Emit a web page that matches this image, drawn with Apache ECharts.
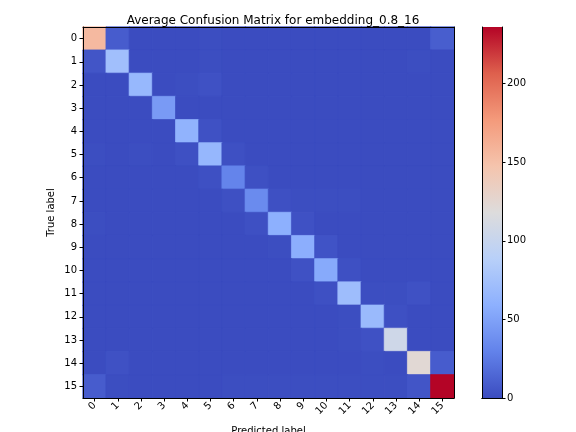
<!DOCTYPE html>
<html>
<head>
<meta charset="utf-8">
<script src="https://cdn.jsdelivr.net/npm/echarts@6/dist/echarts.min.js"></script>
<style>html,body{margin:0;padding:0;background:#fff}#c{width:576px;height:432px}</style>
</head>
<body>
<div id="c"></div>
<script>
var labels = ['0','1','2','3','4','5','6','7','8','9','10','11','12','13','14','15'];
var confusion = [
  [155, 9, 0, 0, 0, 1, 0, 0, 0, 0, 0, 0, 0, 0, 0, 10],
  [5, 73, 0, 0, 0, 1, 0, 0, 0, 0, 0, 0, 0, 0, 1, 0],
  [0, 0, 66, 0, 1, 3, 0, 0, 0, 0, 0, 0, 0, 0, 0, 0],
  [0, 0, 0, 45, 0, 0, 0, 0, 0, 0, 0, 0, 0, 0, 0, 0],
  [0, 0, 0, 0, 62, 3, 0, 0, 0, 0, 0, 0, 0, 0, 0, 0],
  [1, 0, 1, 0, 2, 65, 2, 0, 0, 0, 0, 0, 0, 0, 0, 0],
  [0, 0, 0, 0, 0, 2, 31, 2, 0, 0, 0, 0, 0, 0, 0, 0],
  [0, 0, 0, 0, 0, 0, 2, 35, 2, 1, 1, 1, 0, 0, 0, 0],
  [1, 0, 0, 0, 0, 0, 0, 2, 59, 3, 0, 0, 0, 0, 0, 0],
  [0, 0, 0, 0, 0, 0, 0, 0, 1, 58, 4, 0, 0, 0, 0, 0],
  [0, 0, 0, 0, 0, 0, 0, 0, 0, 3, 55, 2, 0, 0, 0, 0],
  [0, 0, 0, 0, 0, 0, 0, 0, 0, 0, 2, 71, 1, 1, 3, 0],
  [0, 0, 0, 0, 0, 0, 0, 0, 0, 0, 0, 1, 68, 2, 0, 0],
  [0, 0, 0, 0, 0, 0, 0, 0, 0, 0, 0, 1, 3, 106, 0, 0],
  [0, 3, 0, 0, 0, 0, 0, 0, 0, 0, 0, 0, 1, 0, 123, 9],
  [9, 1, 0, 0, 0, 0, 1, 1, 1, 1, 1, 1, 1, 1, 5, 236]
];
var colorbarTicks = [0, 50, 100, 150, 200];
var title = 'Average Confusion Matrix for embedding_0.8_16';

var coolwarm = ['#3b4cc0','#6282ea','#8db0fe','#b8d0f9','#dddcdc','#f5c4ad','#f49a7b','#de604d','#b40426'];
var vmax = 0;
confusion.forEach(function (r) { r.forEach(function (v) { if (v > vmax) vmax = v; }); });

function hex2rgb(h) { return [parseInt(h.substr(1,2),16), parseInt(h.substr(3,2),16), parseInt(h.substr(5,2),16)]; }
var cmRgb = coolwarm.map(hex2rgb);
function cmap(v) {
  var t = Math.max(0, Math.min(1, v / vmax)) * (cmRgb.length - 1);
  var k = Math.min(Math.floor(t), cmRgb.length - 2), f = t - k;
  var a = cmRgb[k], b = cmRgb[k + 1];
  return 'rgb(' + [0,1,2].map(function (q) { return Math.round(a[q] + (b[q] - a[q]) * f); }).join(',') + ')';
}

var cells = [];
for (var i = 0; i < confusion.length; i++) {
  for (var j = 0; j < confusion[i].length; j++) {
    var c = cmap(confusion[i][j]);
    cells.push({ value: [j, i, confusion[i][j]], itemStyle: { color: c, borderColor: c, borderWidth: 0.7 } });
  }
}
var stops = coolwarm.map(function (c, k) { return { offset: 1 - k / (coolwarm.length - 1), color: c }; }).reverse();

var font = 'DejaVu Sans';
var axisCommon = {
  axisLine: { show: true, lineStyle: { color: '#000', width: 1 } },
  axisTick: { show: true, length: 3.5, lineStyle: { color: '#000' } },
  axisLabel: { color: '#000', fontFamily: font, fontSize: 10 },
  splitLine: { show: false },
  z: 10
};
function ax(extra) { return Object.assign({}, JSON.parse(JSON.stringify(axisCommon)), extra); }

var chart = echarts.init(document.getElementById('c'), null, { renderer: 'canvas' });
chart.setOption({
  backgroundColor: '#fff',
  animation: false,
  title: {
    text: title, left: 268, top: 10, textAlign: 'center',
    textStyle: { fontFamily: font, fontSize: 12, fontWeight: 'normal', color: '#000' }
  },
  grid: [
    { left: 83, top: 27, width: 371, height: 371, outerBoundsMode: 'none', containLabel: false },
    { left: 482, top: 27, width: 20, height: 371, outerBoundsMode: 'none', containLabel: false }
  ],
  xAxis: [
    ax({ type: 'category', data: labels, gridIndex: 0, position: 'bottom',
      axisTick: { show: true, alignWithLabel: true, length: 3.5, lineStyle: { color: '#000' } },
      axisLabel: { color: '#000', fontFamily: font, fontSize: 10, rotate: 45, margin: 6 },
      name: 'Predicted label', nameLocation: 'middle', nameGap: 28, nameMoveOverlap: false,
      nameTextStyle: { fontFamily: font, fontSize: 10, color: '#000' } }),
    ax({ type: 'category', data: labels, gridIndex: 0, position: 'top',
      axisTick: { show: false }, axisLabel: { show: false } }),
    ax({ type: 'category', data: [''], gridIndex: 1,
      axisTick: { show: false }, axisLabel: { show: false } }),
    ax({ type: 'category', data: [''], gridIndex: 1, position: 'top',
      axisTick: { show: false }, axisLabel: { show: false } })
  ],
  yAxis: [
    ax({ type: 'category', data: labels, gridIndex: 0, inverse: true, position: 'left',
      axisTick: { show: true, alignWithLabel: true, length: 3.5, lineStyle: { color: '#000' } },
      axisLabel: { color: '#000', fontFamily: font, fontSize: 10, margin: 6 },
      name: 'True label', nameLocation: 'middle', nameGap: 27, nameRotate: 90, nameMoveOverlap: false,
      nameTextStyle: { fontFamily: font, fontSize: 10, color: '#000' } }),
    ax({ type: 'category', data: labels, gridIndex: 0, inverse: true, position: 'right',
      axisTick: { show: false }, axisLabel: { show: false } }),
    ax({ type: 'value', gridIndex: 1, min: 0, max: vmax, interval: 50, position: 'right',
      axisTick: { show: true, length: 3.5, lineStyle: { color: '#000' }, customValues: colorbarTicks },
      axisLabel: { color: '#000', fontFamily: font, fontSize: 10, margin: 5, customValues: colorbarTicks } }),
    ax({ type: 'value', gridIndex: 1, min: 0, max: vmax, position: 'left',
      axisTick: { show: false }, axisLabel: { show: false } })
  ],
  series: [
    { type: 'heatmap', xAxisIndex: 0, yAxisIndex: 0, data: cells, emphasis: { disabled: true } },
    { type: 'bar', xAxisIndex: 2, yAxisIndex: 2, data: [vmax], barWidth: '100%',
      itemStyle: { color: new echarts.graphic.LinearGradient(0, 0, 0, 1, stops) } }
  ]
});
</script>
</body>
</html>
